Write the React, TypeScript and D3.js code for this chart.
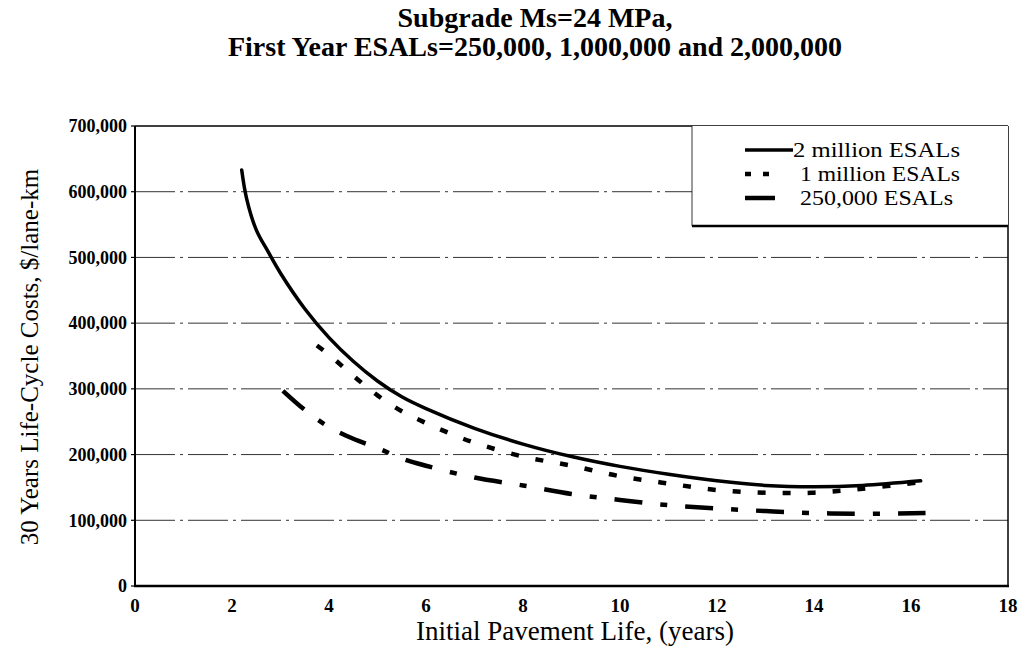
import React from "react";
import * as d3 from "d3";

const titleLines = ["Subgrade Ms=24 MPa,", "First Year ESALs=250,000, 1,000,000 and 2,000,000"];
const xTicks = [0, 2, 4, 6, 8, 10, 12, 14, 16, 18];
const yTicks = [0, 100000, 200000, 300000, 400000, 500000, 600000, 700000];

const years2M = [2.2, 2.3, 2.5, 2.75, 3, 3.5, 4, 4.5, 5, 5.5, 6, 7, 8, 9, 10, 11, 12, 13, 14, 15, 16.2];
const cost2M = [633000, 590000, 542000, 508000, 476000, 422000, 378000, 342000, 312000, 288000, 270000, 240000, 216000, 197000, 182000, 170000, 160000, 153000, 151000, 153000, 160000];

const years1M = [3.75, 4, 4.5, 5, 5.5, 6, 6.5, 7, 8, 9, 10, 11, 12, 13, 14, 15, 16.2];
const cost1M = [366000, 352000, 320000, 290000, 266000, 248000, 232000, 218000, 197000, 183000, 167000, 156000, 146000, 142000, 142000, 148000, 158000];

const years250k = [3.05, 3.5, 4, 4.5, 5, 5.5, 6, 7, 8, 9, 10, 11, 12, 13, 14, 15, 16.3];
const cost250k = [297000, 268000, 242000, 224000, 210000, 194000, 183000, 165000, 153000, 140000, 131000, 123000, 118000, 114000, 111000, 110000, 111000];

const seriesNames = ["2 million ESALs", "1 million ESALs", "250,000 ESALs"];

const FONT = "'Liberation Serif', 'Times New Roman', serif";

export default function App() {
  const W = 1033, H = 668;
  const left = 135, right = 1008, top = 126, bottom = 586;
  const x = d3.scaleLinear().domain([0, 18]).range([left, right]);
  const y = d3.scaleLinear().domain([0, 700000]).range([bottom, top]);
  const fmt = d3.format(",");

  const line = d3
    .line<[number, number]>()
    .x((d) => x(d[0]))
    .y((d) => y(d[1]))
    .curve(d3.curveCatmullRom.alpha(0.5));

  const series = [
    { name: seriesNames[0], pts: years2M.map((v, i) => [v, cost2M[i]] as [number, number]), dash: "none", w: 3.5, cap: "round", leg: "none", tl: 167 },
    { name: seriesNames[1], pts: years1M.map((v, i) => [v, cost1M[i]] as [number, number]), dash: "8 17", w: 4.5, cap: "butt", leg: "6 12 6 40", tl: 160 },
    { name: seriesNames[2], pts: years250k.map((v, i) => [v, cost250k[i]] as [number, number]), dash: "28 18 7 18", w: 4.5, cap: "butt", leg: "30 40", tl: 153 },
  ];

  const legX = 692, legY = top, legW = right - 692, legH = 100;
  const rowY = [150, 174, 198];

  return (
    <svg width={W} height={H} style={{ display: "block", position: "absolute", left: 0, top: 0 }} fontFamily={FONT}>
      <rect x={0} y={0} width={W} height={H} fill="#fff" />
      {titleLines.map((t, i) => (
        <text key={t} x={535} y={27 + i * 29} textAnchor="middle" fontWeight="bold" fontSize={28} fill="#000">
          {t}
        </text>
      ))}

      {/* gridlines */}
      {yTicks.filter((v) => v > 0 && v < 700000).map((v) => (
        <line key={v} x1={left} x2={right} y1={y(v)} y2={y(v)} stroke="#333" strokeWidth={1} strokeDasharray="40 5 3 5" />
      ))}

      {/* y ticks */}
      {yTicks.map((v) => (
        <g key={v}>
          <line x1={left - 4} x2={left} y1={y(v)} y2={y(v)} stroke="#000" strokeWidth={1.2} />
          <text x={127} y={y(v)} dy="0.35em" textAnchor="end" fontSize={18} fontWeight="bold" fill="#000">
            {fmt(v)}
          </text>
        </g>
      ))}

      {/* x ticks */}
      {xTicks.map((v) => (
        <text key={v} x={x(v)} y={612} textAnchor="middle" fontSize={19} fontWeight="bold" fill="#000">
          {v}
        </text>
      ))}

      {/* series */}
      {series.map((s) => (
        <path key={s.name} d={line(s.pts) || ""} fill="none" stroke="#000" strokeWidth={s.w} strokeDasharray={s.dash === "none" ? undefined : s.dash} strokeLinecap={s.cap as any} />
      ))}

      {/* frame */}
      <line x1={left} x2={right} y1={top} y2={top} stroke="#000" strokeWidth={1.5} />
      <line x1={right} x2={right} y1={top} y2={bottom} stroke="#000" strokeWidth={1.5} />
      <line x1={left} x2={left} y1={top} y2={bottom + 1} stroke="#000" strokeWidth={2} />
      <line x1={left - 1} x2={right + 1} y1={bottom} y2={bottom} stroke="#000" strokeWidth={2.5} />

      {/* legend */}
      <rect x={legX} y={legY} width={legW} height={legH} fill="#fff" />
      <line x1={legX} x2={legX} y1={legY} y2={legY + legH} stroke="#000" strokeWidth={0.8} />
      <line x1={legX} x2={right} y1={legY + legH} y2={legY + legH} stroke="#000" strokeWidth={2.5} />
      {series.map((s, i) => (
        <g key={s.name}>
          <line x1={745} x2={793} y1={rowY[i]} y2={rowY[i]} stroke="#000" strokeWidth={s.w} strokeDasharray={s.leg === "none" ? undefined : s.leg} />
          <text x={i === 0 ? 793 : 800} y={rowY[i]} dy="0.35em" fontSize={21} fill="#000" textLength={s.tl} lengthAdjust="spacingAndGlyphs">
            {s.name}
          </text>
        </g>
      ))}

      {/* axis titles */}
      <text x={575} y={640} textAnchor="middle" fontSize={27} fill="#000">
        Initial Pavement Life, (years)
      </text>
      <text transform={`translate(38,357) rotate(-90)`} textAnchor="middle" fontSize={25} fill="#000">
        30 Years Life-Cycle Costs, $/lane-km
      </text>
    </svg>
  );
}
